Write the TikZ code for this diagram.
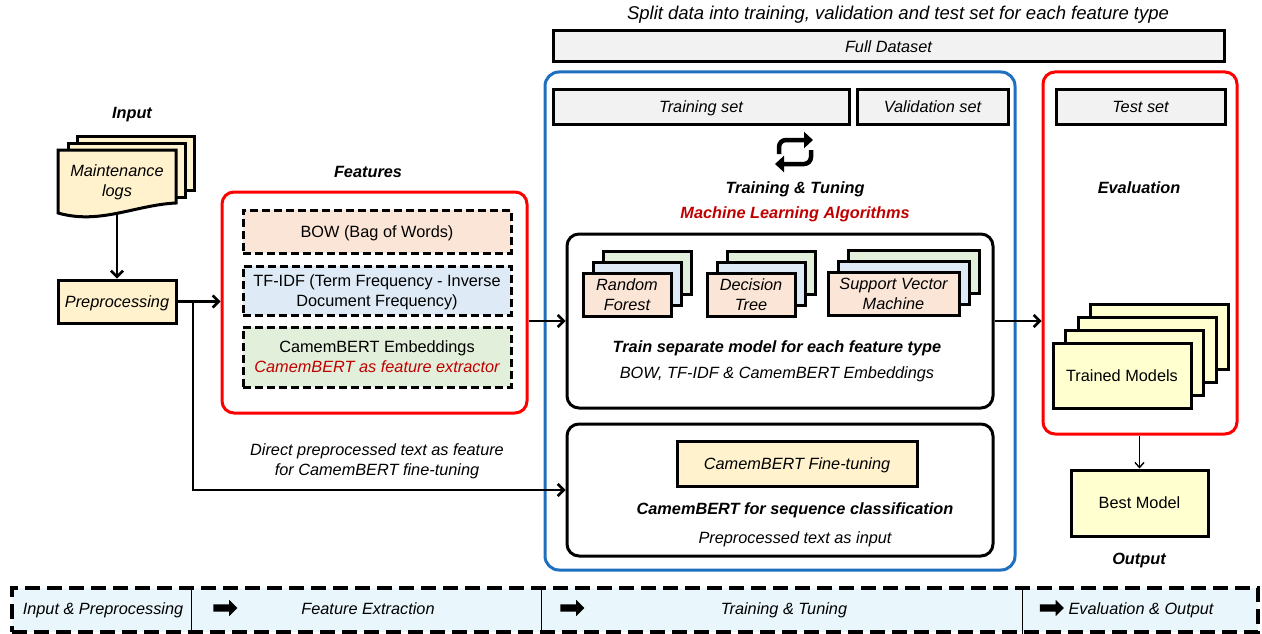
\documentclass[tikz,border=0pt]{standalone}
\usepackage{fontspec}
\setmainfont{Liberation Sans}
\usetikzlibrary{arrows.meta,shapes.arrows,calc}
\definecolor{docfill}{HTML}{FFF2CC}
\definecolor{salmon}{HTML}{FBE5D6}
\definecolor{lblue}{HTML}{DEEBF7}
\definecolor{lgreen}{HTML}{E2EFDA}
\definecolor{grayfill}{HTML}{F2F2F2}
\definecolor{pyellow}{HTML}{FFFFD0}
\definecolor{barfill}{HTML}{E9F7FC}
\definecolor{boxred}{HTML}{FF0000}
\definecolor{txtred}{HTML}{C00000}
\definecolor{boxblue}{HTML}{1F6FBF}
\newcommand\myfs{\fontsize{16.3}{20}\selectfont}
\tikzset{
  box/.style={draw=black, line width=3pt, inner sep=0pt, align=center, font=\myfs, text depth=0pt},
  dbox/.style={box, dash pattern=on 8pt off 4pt},
  gbox/.style={box, fill=grayfill, font=\myfs\itshape},
  docline/.style={draw=black, line width=3pt},
  arr/.style={line width=2.5pt, -{Straight Barb[length=6pt,width=12pt]}},
  thinarr/.style={line width=1.4pt, -{Straight Barb[length=5pt,width=9pt]}},
  lbl/.style={font=\myfs\bfseries\itshape, inner sep=0pt, text depth=0pt},
  itx/.style={font=\myfs\itshape, align=center, inner sep=0pt, text depth=0pt},
  redframe/.style={draw=boxred, line width=3pt, rounded corners=12pt, inner sep=0pt},
  blueframe/.style={draw=boxblue, line width=3pt, rounded corners=14pt, inner sep=0pt},
  blackframe/.style={draw=black, line width=3pt, rounded corners=12pt, inner sep=0pt},
  algo/.style={box, minimum height=43pt},
  tm/.style={box, fill=pyellow, minimum width=138pt, minimum height=65pt},
  barbox/.style={draw=black, fill=barfill, line width=3.2pt, dash pattern=on 15pt off 7pt, inner sep=0pt},
  barr/.style={single arrow, fill=black, draw=none, minimum height=24pt, inner sep=3.5pt,
    single arrow head extend=4.5pt, single arrow head indent=0pt},
  divider/.style={draw=black, line width=1.3pt},
  loopar/.style={line width=4.5pt, rounded corners=7pt, -{Triangle[length=9pt,width=16pt]}}
}
\begin{document}
\begin{tikzpicture}[x=1pt,y=-1pt]
\useasboundingbox (0,0) rectangle (1262,634);

% ---------- Input ----------
\node[lbl] (inlbl) at (132,113) {Input};
\draw[docline, fill=docfill] (77,136) rectangle (194,190);
\draw[docline, fill=docfill] (68,143) rectangle (185,197);
\draw[docline, fill=docfill] (58,150) -- (176,150) -- (176,203)
   .. controls (135,205) and (100,225) .. (58,213) -- cycle;
\node[itx] (logs) at (117,181) {Maintenance\\logs};
\coordinate (docbot) at (117,213);
\node[box, fill=docfill, font=\myfs\itshape, minimum width=118pt, minimum height=43pt] (prep) at (117,301.5) {Preprocessing};
\draw[arr] (docbot) -- (prep.north);

% ---------- Features ----------
\node[lbl] (featlbl) at (368,172) {Features};
\node[redframe, minimum width=305pt, minimum height=221pt] (featbox) at (374.5,302.5) {};
\node[dbox, fill=salmon, minimum width=268pt, minimum height=43pt] (bow) at (377,231.5) {BOW (Bag of Words)};
\node[dbox, fill=lblue, minimum width=268pt, minimum height=49pt] (tfidf) at (377,290.5) {TF-IDF (Term Frequency - Inverse\\Document Frequency)};
\node[dbox, fill=lgreen, minimum width=268pt, minimum height=60pt] (cam) at (377,357) {CamemBERT Embeddings\\\textcolor{txtred}{\itshape CamemBERT as feature extractor}};

\draw[arr] (prep.east) -- (prep.east -| featbox.west);
\coordinate (br) at (193,301.5);

% ---------- Split data ----------
\node[itx, font=\fontsize{18.5}{22}\selectfont\itshape] (title) at (898,13) {Split data into training, validation and test set for each feature type};
\node[gbox, minimum width=671pt, minimum height=31pt] (full) at (888.5,46.5) {Full Dataset};

% ---------- Training & tuning ----------
\node[blueframe, minimum width=470pt, minimum height=498pt] (blue) at (780,321) {};
\node[gbox, minimum width=296pt, minimum height=34pt] (train) at (701,107) {Training set};
\node[gbox, minimum width=151pt, minimum height=34pt] (valid) at (932.5,107) {Validation set};

\coordinate (loopc) at (795,152);
\draw[loopar] ($(loopc)+(-16,2)$) -- ($(loopc)+(-16,-12)$) -- ($(loopc)+(18,-12)$);
\draw[loopar] ($(loopc)+(16,-2)$) -- ($(loopc)+(16,12)$) -- ($(loopc)+(-20,12)$);

\node[lbl] (tt) at (795,188) {Training \& Tuning};
\node[lbl, text=txtred] (mla) at (795,213) {Machine Learning Algorithms};

\node[blackframe, minimum width=426pt, minimum height=174pt] (ml) at (780,321) {};
% Random forest stack
\node[algo, fill=lgreen, minimum width=88pt] (rf3) at (647,272.5) {};
\node[algo, fill=lblue, minimum width=88pt] (rf2) at (637,283.5) {};
\node[algo, fill=salmon, minimum width=88pt] (rf1) at (627,294.5) {\itshape Random\\\itshape Forest};
% Decision tree stack
\node[algo, fill=lgreen, minimum width=88pt] (dt3) at (771,272.5) {};
\node[algo, fill=lblue, minimum width=88pt] (dt2) at (761,283.5) {};
\node[algo, fill=salmon, minimum width=88pt] (dt1) at (751,294.5) {\itshape Decision\\\itshape Tree};
% SVM stack
\node[algo, fill=lgreen, minimum width=131pt] (sv3) at (913.5,271.5) {};
\node[algo, fill=lblue, minimum width=131pt] (sv2) at (903.5,282.5) {};
\node[algo, fill=salmon, minimum width=131pt] (sv1) at (893.5,293.5) {\itshape Support Vector\\\itshape Machine};

\node[lbl] (tsm) at (777,347) {Train separate model for each feature type};
\node[itx] (bte) at (777,373) {BOW, TF-IDF \& CamemBERT Embeddings};

\node[blackframe, minimum width=426pt, minimum height=132pt] (cbox) at (780,490) {};
\node[box, fill=docfill, font=\myfs\itshape, minimum width=240pt, minimum height=45pt] (ft) at (797,463.5) {CamemBERT Fine-tuning};
\node[lbl] (seq) at (795,509) {CamemBERT for sequence classification};
\node[itx] (pti) at (795,538) {Preprocessed text as input};

\node[itx] (direct) at (377,459.5) {Direct preprocessed text as feature\\for CamemBERT fine-tuning};

\draw[arr] (featbox.east |- ml.west) -- (ml.west);
\draw[arr] (br) |- (cbox.west);

% ---------- Evaluation ----------
\node[gbox, minimum width=169pt, minimum height=34pt] (test) at (1140.5,107) {Test set};
\node[redframe, minimum width=194pt, minimum height=362pt] (evalbox) at (1140,253) {};
\node[lbl] (evlbl) at (1139,188) {Evaluation};
\node[tm] (tm4) at (1159.5,336.5) {};
\node[tm] (tm3) at (1147,349.5) {};
\node[tm] (tm2) at (1134.5,362.5) {};
\node[tm] (tm1) at (1122,375.5) {Trained Models};
\draw[arr] (ml.east) -- (ml.east -| evalbox.west);

\node[box, fill=pyellow, minimum width=137pt, minimum height=66pt] (best) at (1139.5,503) {Best Model};
\draw[thinarr] (evalbox.south -| best.north) -- (best.north);
\node[lbl] (outlbl) at (1139,559) {Output};

% ---------- Bottom bar ----------
\node[barbox, minimum width=1246pt, minimum height=44pt] (bar) at (635,610) {};
\draw[divider] ([xshift=181pt]bar.north west) -- ([xshift=181pt]bar.south west);
\draw[divider] ([xshift=531pt]bar.north west) -- ([xshift=531pt]bar.south west);
\draw[divider] ([xshift=1012pt]bar.north west) -- ([xshift=1012pt]bar.south west);
\node[itx] (b1) at (103,609) {Input \& Preprocessing};
\node[barr] (a1) at (223.5,608) {};
\node[itx] (b2) at (368,609) {Feature Extraction};
\node[barr] (a2) at (570.5,608) {};
\node[itx] (b3) at (784,609) {Training \& Tuning};
\node[barr] (a3) at (1050,608) {};
\node[itx] (b4) at (1141,609) {Evaluation \& Output};
\end{tikzpicture}
\end{document}
